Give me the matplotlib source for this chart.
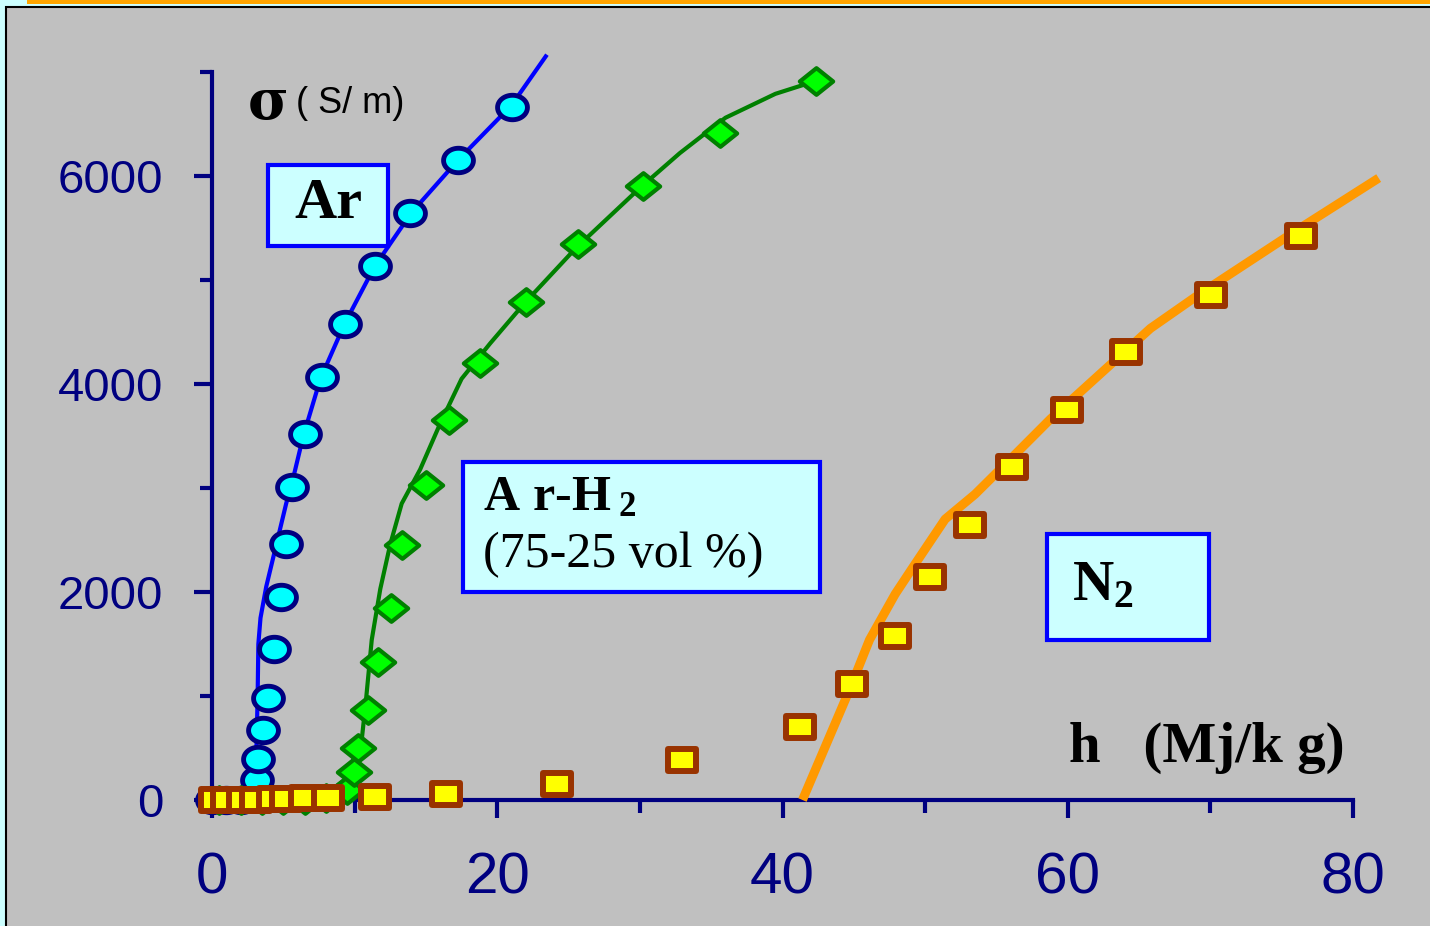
import numpy as np
import matplotlib
matplotlib.use("Agg")
import matplotlib.pyplot as plt
from matplotlib.patches import Rectangle
from matplotlib.path import Path

plt.rcParams["mathtext.fontset"] = "custom"
plt.rcParams["mathtext.rm"] = "Liberation Serif"
plt.rcParams["mathtext.bf"] = "Liberation Serif:bold"

# Ar: measured points and fitted curve
ar_h = [0.0, 1.0, 2.0, 3.16, 3.2, 3.6, 3.9, 4.35, 4.84, 5.19, 5.61, 6.52, 7.71, 9.33, 11.43, 13.89, 17.25, 21.04]
ar_sigma = [0, 0, 0, 190, 390, 670, 985, 1450, 1950, 2460, 3010, 3520, 4070, 4580, 5130, 5640, 6150, 6660]
ar_line_h = [1.6, 2.6, 3.1, 3.2, 3.25, 3.4, 3.8, 4.5, 5.2, 5.7, 6.4, 7.6, 9.3, 11.4, 14.0, 17.3, 21.0, 23.4]
ar_line_sigma = [0, 120, 400, 1000, 1500, 1750, 2050, 2450, 2850, 3100, 3500, 4050, 4580, 5130, 5650, 6160, 6680, 7150]

# Ar-H2 (75-25 vol%)
arh2_h = [0.5, 2.0, 3.5, 5.0, 6.5, 8.0, 9.5, 9.96, 10.24, 10.94, 11.64, 12.55, 13.32, 15.01, 16.62, 18.79, 22.02, 25.67, 30.22, 35.62, 42.36]
arh2_sigma = [0, 0, 0, 0, 0, 20, 100, 270, 500, 870, 1330, 1850, 2450, 3030, 3650, 4200, 4790, 5350, 5900, 6415, 6915]
arh2_line_h = [7.4, 9.3, 10.5, 10.8, 11.2, 11.8, 12.5, 13.3, 14.6, 16.0, 17.5, 19.5, 21.9, 25.5, 30.0, 32.8, 36.0, 39.5, 42.36]
arh2_line_sigma = [0, 190, 580, 965, 1540, 2030, 2460, 2850, 3180, 3620, 4050, 4390, 4775, 5305, 5885, 6220, 6560, 6790, 6915]

# N2
n2_h = [0.2, 1.05, 2.2, 3.1, 4.3, 5.2, 6.5, 8.1, 11.4, 16.41, 24.19, 32.96, 41.23, 44.88, 47.9, 50.35, 53.16, 56.1, 59.96, 64.1, 70.06, 76.37]
n2_sigma = [0, 0, 0, 0, 5, 10, 15, 20, 30, 60, 155, 385, 705, 1120, 1580, 2140, 2645, 3200, 3750, 4310, 4860, 5420]
n2_line_h = [41.4, 44.7, 46.1, 47.9, 49.3, 51.4, 53.5, 56.0, 58.8, 62.3, 65.8, 69.3, 76.3, 81.8]
n2_line_sigma = [0, 1060, 1540, 1980, 2270, 2700, 2940, 3280, 3665, 4100, 4535, 4870, 5500, 5980]

x_ticks = [0, 20, 40, 60, 80]
y_ticks = [0, 2000, 4000, 6000]

NAVY = "#000080"


def oval(aspect):
    t = np.linspace(0, 2 * np.pi, 60)
    return Path(np.column_stack([np.cos(t), aspect * np.sin(t)]), closed=True)


def rect(aspect):
    return Path([(-1, -aspect), (1, -aspect), (1, aspect), (-1, aspect), (-1, -aspect)], closed=True)


def diamond(aspect):
    return Path([(-1, 0), (0, aspect), (1, 0), (0, -aspect), (-1, 0)], closed=True)


fig = plt.figure(figsize=(14.3, 9.26), dpi=100, facecolor="#ccffff")
fig.patches.append(Rectangle((6 / 1430, -0.01), 1.0, 1.01 - 7 / 926, transform=fig.transFigure,
                             facecolor="#c0c0c0", edgecolor="black", lw=1.5, zorder=-10))
fig.patches.append(Rectangle((27 / 1430, 1 - 3.5 / 926), 1.0, 3.5 / 926, transform=fig.transFigure,
                             facecolor="#ffa500", edgecolor="none", zorder=-9))

ax = fig.add_axes([212 / 1430, 1 - 800 / 926, (1353 - 212) / 1430, (800 - 72) / 926])
ax.set_facecolor("none")
ax.set_xlim(0, 80)
ax.set_ylim(0, 7000)

# curves
ax.plot(ar_line_h, ar_line_sigma, color="#0000ff", lw=3, clip_on=False, zorder=3)
ax.plot(arh2_line_h, arh2_line_sigma, color="#008000", lw=3, clip_on=False, zorder=3)
ax.plot(n2_line_h, n2_line_sigma, color="#ff9900", lw=6.5, solid_capstyle="butt", clip_on=False, zorder=3)

# markers
ax.plot(ar_h, ar_sigma, ls="none", marker=oval(0.82), ms=21.5, mfc="#00ffff", mec=NAVY, mew=3.5,
        clip_on=False, zorder=4)
ax.plot(arh2_h, arh2_sigma, ls="none", marker=diamond(0.8), ms=24, mfc="#00ff00", mec="#008000", mew=3,
        clip_on=False, zorder=5)
ax.plot(n2_h, n2_sigma, ls="none", marker=rect(0.8), ms=20, mfc="#ffff00", mec="#993300", mew=4.3,
        clip_on=False, zorder=6)

# axes styling
for side in ["top", "right"]:
    ax.spines[side].set_visible(False)
for side in ["left", "bottom"]:
    ax.spines[side].set_color(NAVY)
    ax.spines[side].set_linewidth(3)
    ax.spines[side].set_zorder(2)

ax.set_xticks(x_ticks)
ax.set_xticks([10, 30, 50, 70], minor=True)
ax.set_yticks(y_ticks)
ax.set_yticks([1000, 3000, 5000, 7000], minor=True)
ax.tick_params(which="both", direction="out", color=NAVY, width=3)
ax.tick_params(which="major", length=13)
ax.tick_params(which="minor", length=9)
ax.tick_params(axis="x", labelsize=42, labelcolor=NAVY, pad=24)
ax.tick_params(axis="y", labelsize=34, labelcolor=NAVY, pad=22)
for lab in ax.get_xticklabels() + ax.get_yticklabels():
    lab.set_family("Liberation Sans")

# axis titles
ax.text(2.5, 6700, "σ", fontsize=40, fontweight="bold", family="DejaVu Serif",
        ha="left", va="center", color="black")
ax.text(5.9, 6700, "( S/ m)", fontsize=26, family="Liberation Sans",
        ha="left", va="center", color="black")
ax.text(60.1, 500, "h   (Mj/k g)", fontsize=41, fontweight="bold", family="Liberation Serif",
        ha="left", va="center", color="black")

# labelled boxes
box_style = dict(facecolor="#ccffff", edgecolor="#0000ff", lw=3, zorder=7, clip_on=False)
ax.add_patch(Rectangle((3.93, 5325), 12.34 - 3.93, 6106 - 5325, **box_style))
ax.add_patch(Rectangle((17.6, 1997), 42.64 - 17.6, 3251 - 1997, **box_style))
ax.add_patch(Rectangle((58.55, 1534), 69.92 - 58.55, 2556 - 1534, **box_style))

ax.text(8.15, 5730, "Ar", fontsize=42, fontweight="bold", family="Liberation Serif",
        ha="center", va="center", zorder=8)
ax.text(19.0, 2920, r"$\mathbf{A\;r\text{-}H\,_{2}}$", fontsize=36,
        ha="left", va="center", zorder=8)
ax.text(19.0, 2360, "(75-25 vol %)", fontsize=36, family="Liberation Serif",
        ha="left", va="center", zorder=8)
ax.text(60.3, 2070, r"$\mathbf{N_{2}}$", fontsize=41,
        ha="left", va="center", zorder=8)

fig.savefig("out.png", dpi=100, facecolor=fig.get_facecolor())
